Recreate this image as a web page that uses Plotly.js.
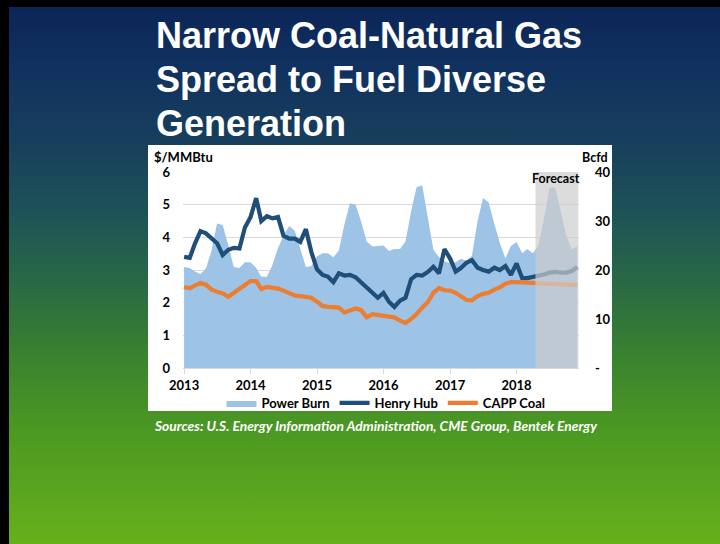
<!DOCTYPE html>
<html>
<head>
<meta charset="utf-8">
<script src="https://cdn.plot.ly/plotly-3.0.1.min.js"></script>
<style>
html,body{margin:0;padding:0;width:720px;height:544px;overflow:hidden;background:#000;}
#bg{position:absolute;left:0;top:0;width:720px;height:544px;box-sizing:border-box;
 border-left:9px solid #000;border-top:7px solid #000;
 background:linear-gradient(to bottom,#0b2557 0%,#113260 12%,#173f5c 25%,#1d5258 38%,#2a6a44 52%,#3b842e 66%,#4d9a22 80%,#66b01c 100%);}
#chart{position:absolute;left:0;top:0;width:720px;height:544px;}
</style>
</head>
<body>
<div id="bg"></div>
<div id="chart"></div>
<script>
// ---- data (monthly, Jan 2013 - Dec 2018) ----
const startYear = 2013;
const nMonths = 72;
const forecastStart = '2018-04-15';
const forecastEnd = '2018-12-06';
const yearTicks = ['2013','2014','2015','2016','2017','2018'];

const powerBurn = [
  20.6, 20.4, 19.7, 19.2, 20.3, 24.0, 29.5, 29.2, 25.0, 20.6, 20.4, 21.6,
  21.6, 20.4, 18.6, 18.6, 21.0, 24.5, 27.0, 29.0, 28.0, 24.5, 20.6, 20.8,
  22.8, 23.4, 23.4, 22.6, 24.0, 29.4, 33.6, 33.3, 29.8, 25.8, 24.8, 24.9,
  25.0, 23.9, 24.3, 24.3, 25.8, 32.0, 36.9, 37.3, 31.0, 24.2, 22.6, 21.8,
  21.4, 21.6, 22.3, 21.9, 22.9, 30.0, 34.7, 33.8, 29.4, 25.5, 22.4, 24.9,
  25.7, 23.4, 24.3, 23.4, 25.0, 30.5, 36.8, 36.9, 32.0, 27.0, 24.2, 24.9
];
const henryHub = [
  3.40, 3.37, 3.80, 4.19, 4.12, 3.97, 3.82, 3.46, 3.62, 3.68, 3.66, 4.30,
  4.62, 5.20, 4.50, 4.65, 4.58, 4.62, 4.05, 3.96, 3.96, 3.86, 4.25, 3.55,
  3.02, 2.85, 2.80, 2.63, 2.90, 2.83, 2.85, 2.78, 2.63, 2.45, 2.33, 2.15,
  2.30, 2.02, 1.87, 2.06, 2.15, 2.72, 2.85, 2.83, 2.94, 3.10, 2.90, 3.64,
  3.35, 2.95, 3.06, 3.22, 3.30, 3.07, 3.00, 2.95, 3.07, 3.00, 3.12, 2.85,
  3.20, 2.75, 2.75, 2.78, 2.82, 2.86, 2.92, 2.94, 2.92, 2.92, 2.97, 3.09
];
const cappCoal = [
  2.48, 2.44, 2.52, 2.60, 2.55, 2.40, 2.33, 2.28, 2.18, 2.30, 2.42, 2.55,
  2.66, 2.66, 2.42, 2.48, 2.46, 2.43, 2.37, 2.31, 2.22, 2.20, 2.19, 2.15,
  2.03, 1.90, 1.87, 1.87, 1.85, 1.70, 1.77, 1.82, 1.77, 1.55, 1.65, 1.62,
  1.60, 1.57, 1.55, 1.45, 1.38, 1.50, 1.65, 1.85, 2.02, 2.30, 2.45, 2.38,
  2.37, 2.30, 2.20, 2.08, 2.07, 2.20, 2.27, 2.30, 2.40, 2.47, 2.58, 2.63,
  2.63, 2.62, 2.60, 2.60, 2.59, 2.58, 2.57, 2.56, 2.55, 2.54, 2.54, 2.54
];
const months = [];
for (let i = 0; i < nMonths; i++) {
  const y = startYear + Math.floor(i / 12), m = (i % 12) + 1;
  months.push(y + '-' + String(m).padStart(2, '0') + '-01');
}

// ---- layout geometry (pixels) ----
const W = 720, H = 544;
const L = 183, R = 579, T = 172, B = 368;
const px = x => (x - L) / (R - L);
const py = y => (B - y) / (B - T);

const FONT = 'Lato, "Open Sans", sans-serif';
const TITLE_FONT = '"Liberation Sans", Arial, sans-serif';
const tickFont = {family: FONT, size: 13, color: '#000', weight: 700};

const traces = [
  {x: months, y: powerBurn, name: 'Power Burn', type: 'scatter', mode: 'lines',
   fill: 'tozeroy', fillcolor: '#9dc3e6', line: {width: 0, color: '#9dc3e6'}, yaxis: 'y'},
  {x: months, y: henryHub, name: 'Henry Hub', type: 'scatter', mode: 'lines',
   line: {color: '#1f4e79', width: 4.2}, yaxis: 'y2'},
  {x: months, y: cappCoal, name: 'CAPP Coal', type: 'scatter', mode: 'lines',
   line: {color: '#ed7d31', width: 4.2}, yaxis: 'y2'}
];

const titleLines = ['Narrow Coal-Natural Gas', 'Spread to Fuel Diverse', 'Generation'];
const titleY = [36, 79, 123];

const annotations = titleLines.map((t, i) => ({
  text: t, xref: 'paper', yref: 'paper', x: px(154), y: py(titleY[i]),
  xanchor: 'left', yanchor: 'middle', showarrow: false,
  font: {family: TITLE_FONT, size: 36, color: '#fff', weight: 700}
}));
annotations.push(
  {text: '$/MMBtu', xref: 'paper', yref: 'paper', x: px(152), y: py(157), xanchor: 'left', yanchor: 'middle',
   showarrow: false, font: {family: FONT, size: 13, color: '#000', weight: 700}},
  {text: 'Bcfd', xref: 'paper', yref: 'paper', x: px(580), y: py(157), xanchor: 'left', yanchor: 'middle',
   showarrow: false, font: {family: FONT, size: 12.5, color: '#000', weight: 700}},
  {text: 'Forecast', xref: 'paper', yref: 'paper', x: px(556), y: py(178), xanchor: 'center', yanchor: 'middle',
   showarrow: false, font: {family: FONT, size: 12.5, color: '#000', weight: 700}},
  {text: 'Sources: U.S. Energy Information Administration, CME Group, Bentek Energy',
   xref: 'paper', yref: 'paper', x: px(152), y: py(425), xanchor: 'left', yanchor: 'middle',
   showarrow: false, font: {family: FONT, size: 13.8, color: '#fff', weight: 700, style: 'italic'}}
);

const layout = {
  width: W, height: H,
  margin: {l: L, r: W - R, t: T, b: H - B, pad: 0},
  paper_bgcolor: 'rgba(0,0,0,0)', plot_bgcolor: 'rgba(0,0,0,0)',
  showlegend: true,
  legend: {orientation: 'h', x: px(386), xanchor: 'center', y: py(388), yanchor: 'top',
           font: {family: FONT, size: 13, color: '#000', weight: 700}, bgcolor: 'rgba(0,0,0,0)',
           itemwidth: 30, traceorder: 'normal'},
  xaxis: {type: 'date', range: ['2012-12-26', '2018-12-10'], tickmode: 'array',
          tickvals: yearTicks.map(y => y + '-01-01'), ticktext: yearTicks,
          ticks: 'outside', ticklen: 5, tickcolor: '#d9d9d9', showline: true, linecolor: '#d9d9d9',
          linewidth: 1, showgrid: false, zeroline: false, tickfont: tickFont},
  yaxis: {range: [0, 40], side: 'right', tickmode: 'array', tickvals: [0, 10, 20, 30, 40],
          ticktext: ['-', '10', '20', '30', '40'], showgrid: false, zeroline: false, showline: false,
          ticks: '', tickfont: tickFont, ticklabelstandoff: 15},
  yaxis2: {range: [0, 6], overlaying: 'y', side: 'left', tickmode: 'linear', tick0: 0, dtick: 1,
           showgrid: true, gridcolor: '#d9d9d9', gridwidth: 1, zeroline: false, showline: false,
           ticks: '', tickfont: tickFont, ticklabelstandoff: 12},
  shapes: [
    {type: 'rect', xref: 'paper', yref: 'paper', x0: px(148), x1: px(612), y0: py(411), y1: py(145),
     fillcolor: '#ffffff', line: {width: 0}, layer: 'below'},
    {type: 'rect', xref: 'x', yref: 'paper', x0: forecastStart, x1: forecastEnd, y0: 0, y1: 1,
     fillcolor: 'rgb(205,205,205)', opacity: 0.69, line: {width: 0}, layer: 'above'}
  ],
  annotations: annotations
};

Plotly.newPlot('chart', traces, layout, {staticPlot: true, displayModeBar: false});
</script>
</body>
</html>
